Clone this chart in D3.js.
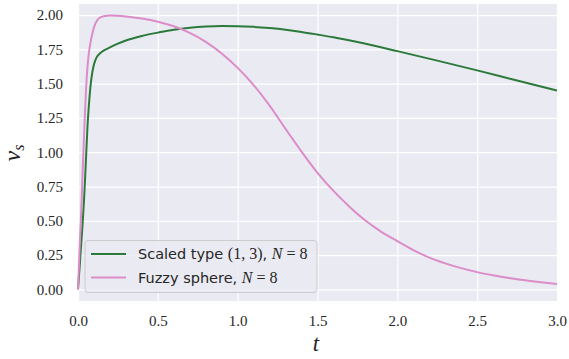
<!DOCTYPE html>
<html><head><meta charset="utf-8">
<script src="https://cdn.jsdelivr.net/npm/d3@7"></script>
<style>html,body{margin:0;padding:0;background:#fff;}</style>
</head><body>
<svg id="chart" width="569" height="359"></svg>
<script>
const xTicks = [0.0, 0.5, 1.0, 1.5, 2.0, 2.5, 3.0];
const yTicks = [0.00, 0.25, 0.50, 0.75, 1.00, 1.25, 1.50, 1.75, 2.00];

const scaledT = [0, 0.01, 0.02, 0.03, 0.04, 0.05, 0.06, 0.07, 0.08, 0.09, 0.10, 0.11, 0.12, 0.135, 0.15, 0.175, 0.20, 0.25, 0.30, 0.40, 0.50, 0.60, 0.70, 0.80, 0.90, 1.00, 1.10, 1.20, 1.30, 1.40, 1.50, 1.60, 1.75, 2.00, 2.25, 2.50, 2.75, 3.00];
const scaledV = [0, 0.16, 0.33, 0.50, 0.70, 0.95, 1.20, 1.37, 1.50, 1.585, 1.64, 1.675, 1.698, 1.718, 1.733, 1.75, 1.765, 1.792, 1.815, 1.848, 1.872, 1.893, 1.907, 1.916, 1.920, 1.919, 1.914, 1.905, 1.893, 1.877, 1.858, 1.838, 1.803, 1.737, 1.668, 1.597, 1.523, 1.45];

const fuzzyT = [0, 0.01, 0.02, 0.03, 0.04, 0.05, 0.06, 0.07, 0.08, 0.09, 0.10, 0.12, 0.14, 0.17, 0.20, 0.30, 0.40, 0.50, 0.60, 0.70, 0.80, 0.90, 1.00, 1.10, 1.20, 1.30, 1.40, 1.50, 1.60, 1.70, 1.80, 1.90, 2.00, 2.10, 2.20, 2.30, 2.40, 2.50, 2.60, 2.70, 2.80, 2.90, 3.00];
const fuzzyV = [0, 0.30, 0.56, 0.88, 1.18, 1.45, 1.63, 1.74, 1.81, 1.865, 1.91, 1.962, 1.983, 1.994, 1.997, 1.99, 1.975, 1.952, 1.918, 1.87, 1.805, 1.72, 1.615, 1.49, 1.34, 1.17, 1.005, 0.85, 0.718, 0.603, 0.502, 0.42, 0.352, 0.287, 0.232, 0.19, 0.155, 0.126, 0.103, 0.083, 0.066, 0.052, 0.04];

const seriesNames = ["Scaled type", "Fuzzy sphere"];
const colors = ["#2b7a3b", "#dc8cc8"];

const svg = d3.select("#chart");
const L = 78, R = 557, T = 4, B = 301;
const x = d3.scaleLinear().domain([0, 3]).range([L, R]);
const y = d3.scaleLinear().domain([-0.0845, 2.0807]).range([B, T]);

svg.append("rect").attr("x", L).attr("y", T).attr("width", R - L).attr("height", B - T).attr("fill", "#eaeaf2");

const gx = svg.append("g").attr("transform", `translate(0,${B})`)
  .call(d3.axisBottom(x).tickValues(xTicks).tickFormat(d3.format(".1f")).tickSize(-(B - T)).tickPadding(14));
const gy = svg.append("g").attr("transform", `translate(${L},0)`)
  .call(d3.axisLeft(y).tickValues(yTicks).tickFormat(d3.format(".2f")).tickSize(-(R - L)).tickPadding(15));
[gx, gy].forEach(g => {
  g.attr("font-family", "Liberation Serif").attr("font-size", 15);
  g.select(".domain").remove();
  g.selectAll(".tick line").attr("stroke", "#ffffff").attr("stroke-width", 1.25);
  g.selectAll(".tick text").attr("fill", "#262626").attr("font-family", "Liberation Serif").attr("font-size", 15);
});

const line = d3.line().x(d => x(d[0])).y(d => y(d[1])).curve(d3.curveMonotoneX);
const plot = svg.append("g");
const data = [d3.zip(scaledT, scaledV), d3.zip(fuzzyT, fuzzyV)];
data.forEach((d, i) => {
  plot.append("path").datum(d).attr("d", line).attr("fill", "none")
    .attr("stroke", colors[i]).attr("stroke-width", 2);
});

// legend
const lg = svg.append("g");
lg.append("rect").attr("x", 85).attr("y", 240.5).attr("width", 232).attr("height", 52).attr("rx", 3)
  .attr("fill", "#eaeaf2").attr("fill-opacity", 0.8).attr("stroke", "#cccccc").attr("stroke-width", 1);
const rows = [254, 277.5];
rows.forEach((ry, i) => {
  lg.append("line").attr("x1", 91).attr("x2", 126).attr("y1", ry).attr("y2", ry)
    .attr("stroke", colors[i]).attr("stroke-width", 2);
  const t = lg.append("text").attr("x", 138).attr("y", ry + 5).attr("fill", "#262626")
    .attr("font-family", "DejaVu Sans").attr("font-size", 14.5);
  t.append("tspan").text(seriesNames[i] + (i === 0 ? " " : ", "));
  if (i === 0) {
    t.append("tspan").attr("font-family", "Liberation Serif").attr("font-size", 16).text("(1, 3)");
    t.append("tspan").text(", ");
  }
  t.append("tspan").attr("font-family", "Liberation Serif").attr("font-style", "italic").attr("font-size", 16).text("N");
  t.append("tspan").attr("font-family", "Liberation Serif").attr("font-size", 16).text(" = 8");
});

// axis labels
svg.append("text").attr("x", 316).attr("y", 351).attr("text-anchor", "middle").attr("font-family", "Liberation Serif")
  .attr("font-style", "italic").attr("font-size", 23).attr("fill", "#262626").text("t");
const yl = svg.append("text").attr("transform", "translate(20,153) rotate(-90)").attr("text-anchor", "middle")
  .attr("font-family", "Liberation Serif").attr("font-size", 24).attr("fill", "#262626");
yl.append("tspan").attr("font-style", "italic").text("v");
yl.append("tspan").attr("font-style", "italic").attr("font-size", 16).attr("dy", 4).text("s");
</script>
</body></html>
